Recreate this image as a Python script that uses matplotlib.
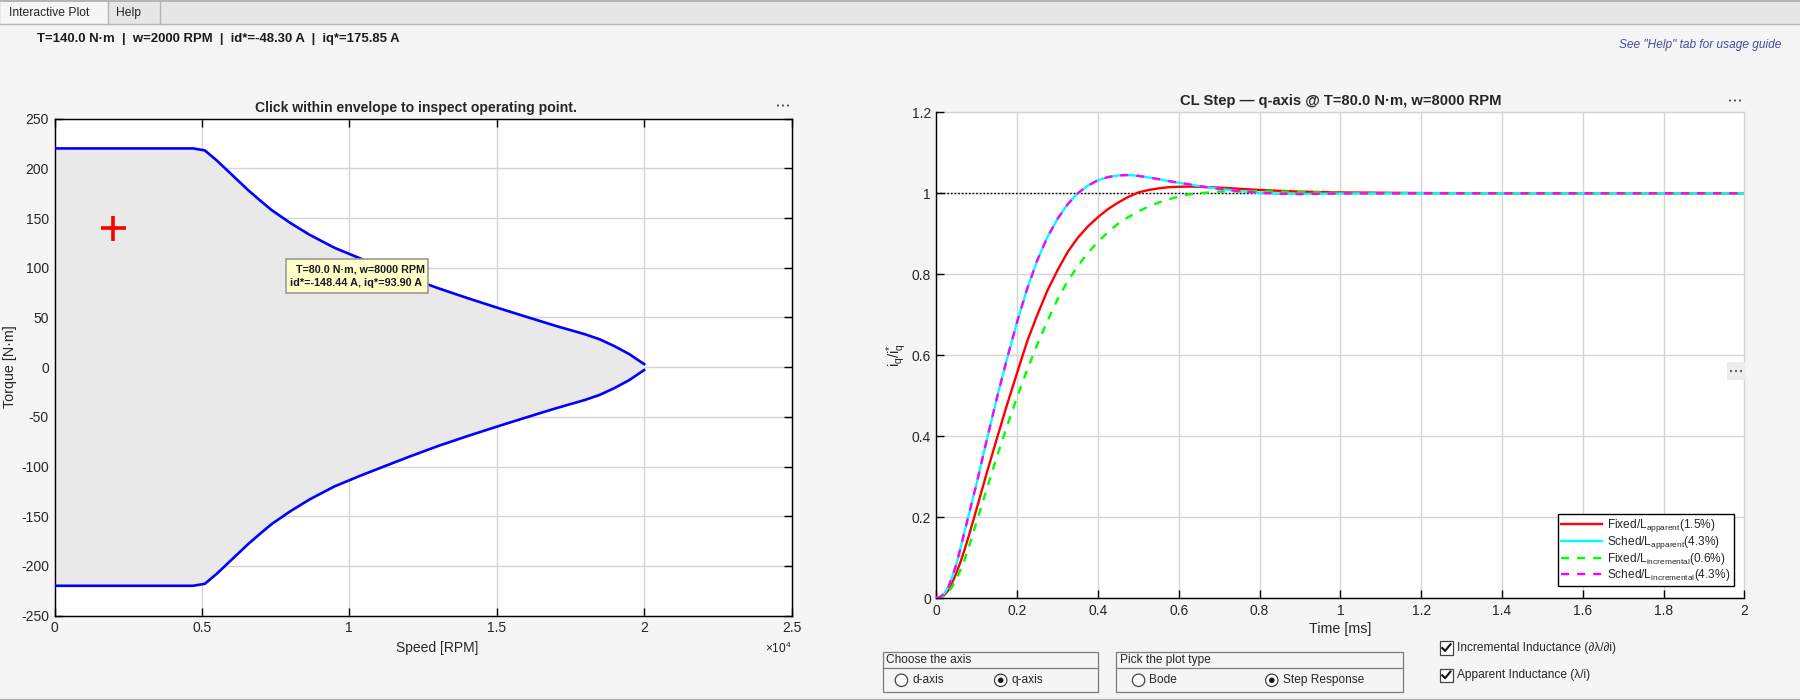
import matplotlib
matplotlib.use("Agg")
import matplotlib.pyplot as plt
from matplotlib.patches import Rectangle, Circle

plt.rcParams['font.family'] = ['Liberation Sans', 'DejaVu Sans']
plt.rcParams['mathtext.fontset'] = 'custom'
plt.rcParams['mathtext.rm'] = 'Liberation Sans'
plt.rcParams['mathtext.it'] = 'Liberation Sans:italic'
plt.rcParams['mathtext.bf'] = 'Liberation Sans:bold'
plt.rcParams['axes.unicode_minus'] = False

# ---------- data ----------
speed_rpm = [0, 4700, 5100, 5500, 6000, 6570, 7000, 7363, 8000, 8660, 9500, 10356, 11000,
             12000, 13000, 14000, 15100, 16070, 17000, 18000, 18490, 19000, 19500, 20000]
torque_upper = [220, 220, 218, 208, 194, 178, 167, 158, 145, 133, 120, 109.5, 102,
                90.5, 79.5, 69.5, 59, 50, 41.5, 33, 28, 21, 13, 3]
torque_lower = [-220, -220, -218, -208, -194, -178, -167, -158, -145, -133, -120, -109.5, -102,
                -90.5, -79.5, -69.5, -59, -50, -41.5, -33, -28, -21, -13, -3]
op_speed = [2000]
op_torque = [140]

time_ms = [0, .01, .02, .03, .04, .05, .06, .07, .08, .09, .1, .125, .15, .175, .2, .225, .25, .275,
           .3, .325, .35, .375, .4, .425, .45, .475, .5, .525, .55, .575, .6, .625, .65, .675, .7,
           .75, .8, .85, .9, 1.0, 1.2, 1.4, 1.6, 1.8, 2.0]
fixed_apparent = [0, .002, .008, .02, .04, .063, .09, .12, .153, .187, .222, .31, .395, .478, .557, .635, .70, .76,
                  .81, .855, .89, .918, .941, .961, .977, .991, 1.002, 1.008, 1.012, 1.015, 1.016, 1.0165, 1.016, 1.015, 1.014,
                  1.011, 1.008, 1.006, 1.004, 1.002, 1.0005, 1.0, 1.0, 1.0, 1.0]
sched_apparent = [0, .003, .012, .028, .055, .085, .125, .165, .205, .245, .285, .392, .495, .592, .683, .765, .835, .892,
                  .937, .973, 1.0, 1.019, 1.032, 1.04, 1.044, 1.045, 1.043, 1.039, 1.035, 1.03, 1.026, 1.022, 1.018, 1.014, 1.011,
                  1.005, 1.001, .999, .998, .9995, 1.0, 1.0, 1.0, 1.0, 1.0]
fixed_incremental = [0, .001, .006, .015, .03, .048, .07, .096, .125, .157, .19, .27, .35, .425, .497, .565, .627, .685,
                     .738, .783, .82, .853, .88, .904, .925, .941, .955, .967, .977, .985, .992, .997, 1.0, 1.002, 1.004,
                     1.005, 1.005, 1.004, 1.003, 1.001, 1.0, 1.0, 1.0, 1.0, 1.0]
sched_incremental = list(sched_apparent)
reference = [1, 1]
reference_t = [0, 2]

speed_ticks = [0, 5000, 10000, 15000, 20000, 25000]
speed_ticklabels = ['0', '0.5', '1', '1.5', '2', '2.5']
torque_ticks = [-250, -200, -150, -100, -50, 0, 50, 100, 150, 200, 250]
time_ticks = [0, .2, .4, .6, .8, 1, 1.2, 1.4, 1.6, 1.8, 2]
time_ticklabels = ['0', '0.2', '0.4', '0.6', '0.8', '1', '1.2', '1.4', '1.6', '1.8', '2']
resp_ticks = [0, .2, .4, .6, .8, 1, 1.2]
resp_ticklabels = ['0', '0.2', '0.4', '0.6', '0.8', '1', '1.2']

W, H = 1800, 700
BG = '#f5f5f5'
GRID = '#d4d4d4'
TXT = '#262626'
fig = plt.figure(figsize=(18, 7), dpi=100, facecolor=BG)


def px_axes(l, t, r, b):
    return fig.add_axes([l / W, 1 - b / H, (r - l) / W, (b - t) / H])


def style(ax):
    ax.set_facecolor('white')
    ax.grid(True, color=GRID, lw=1.0)
    ax.set_axisbelow(True)
    for s in ax.spines.values():
        s.set_linewidth(1.0)
        s.set_color('black')
    ax.tick_params(direction='in', length=5.5, width=1.0, labelsize=10, colors=TXT,
                   color='black', pad=4)


# ---------- left axes ----------
axL = px_axes(54.5, 118.6, 791.5, 615.6)
style(axL)
axL.tick_params(top=True, right=True)
axL.fill_between(speed_rpm, torque_lower, torque_upper, color='#e9e9e9', lw=0, zorder=1.5)
axL.plot(speed_rpm, torque_upper, color='#0000ff', lw=1.9, zorder=3)
axL.plot(speed_rpm, torque_lower, color='#0000ff', lw=1.9, zorder=3)
axL.plot(op_speed, op_torque, '+', color='#ff0000', ms=18, mew=2.6, zorder=4)
axL.set_xlim(0, 25000)
axL.set_ylim(-250, 250)
axL.set_xticks(speed_ticks, speed_ticklabels)
axL.set_yticks(torque_ticks)
axL.set_xlabel('Speed [RPM]', fontsize=10, color=TXT)
axL.xaxis.set_label_coords((437 - 54.5) / 737, -(648 - 615.6) / 497)
axL.xaxis.label.set_verticalalignment('center')
axL.set_ylabel('Torque [N·m]', fontsize=10.3, color=TXT)
axL.yaxis.set_label_coords((10.5 - 54.5) / 737, 0.5)
axL.yaxis.label.set_verticalalignment('center')
axL.set_title('Click within envelope to inspect operating point.', fontsize=10.1,
              fontweight='bold', color=TXT, pad=5, x=(416 - 54.5) / 737)

# ---------- right axes ----------
axR = px_axes(936.4, 112.3, 1744.3, 598)
style(axR)
axR.spines['top'].set_visible(False)
axR.spines['right'].set_visible(False)
axR.plot(reference_t, reference, color='black', lw=1.0, ls=(0, (1.2, 1.4)), zorder=2.5)
axR.plot(time_ms, fixed_apparent, color='#ff0000', lw=1.7, label=r'Fixed/L$_{\mathrm{apparent}}$(1.5%)', zorder=3)
axR.plot(time_ms, sched_apparent, color='#00ffff', lw=1.7, label=r'Sched/L$_{\mathrm{apparent}}$(4.3%)', zorder=3)
axR.plot(time_ms, fixed_incremental, color='#00ff00', lw=1.7, ls=(0, (3.4, 3.4)),
         label=r'Fixed/L$_{\mathrm{incremental}}$(0.6%)', zorder=3)
axR.plot(time_ms, sched_incremental, color='#ff00ff', lw=1.7, ls=(0, (3.4, 3.4)),
         label=r'Sched/L$_{\mathrm{incremental}}$(4.3%)', zorder=3)
axR.set_xlim(0, 2)
axR.set_ylim(0, 1.2)
axR.set_xticks(time_ticks, time_ticklabels)
axR.set_yticks(resp_ticks, resp_ticklabels)
axR.set_xlabel('Time [ms]', fontsize=10.3, color=TXT, labelpad=3)
axR.set_ylabel(r'i$_{\mathrm{q}}$/i$_{\mathrm{q}}^{*}$', fontsize=10.5, color=TXT)
axR.yaxis.set_label_coords((896.7 - 936.4) / 807.9, 0.5)
axR.yaxis.label.set_verticalalignment('center')
axR.set_title('CL Step — q-axis @ T=80.0 N·m, w=8000 RPM', fontsize=10.6,
              fontweight='bold', color=TXT, pad=5)
leg = axR.legend(loc='lower right', bbox_to_anchor=(1733.7 / W, 1 - 586.3 / H), bbox_transform=fig.transFigure,
                 fontsize=8.6, frameon=True, fancybox=False, framealpha=1, edgecolor='black',
                 borderpad=0.25, labelspacing=0.0, handlelength=3.4, handletextpad=0.45,
                 borderaxespad=0)
leg.get_frame().set_linewidth(1.0)
for t in leg.get_texts():
    t.set_color(TXT)
for ax in (axL, axR):
    for g in ax.get_xgridlines() + ax.get_ygridlines():
        g.set_clip_on(False)

# ---------- chrome overlay ----------
ov = fig.add_axes([0, 0, 1, 1], zorder=10)
ov.set_xlim(0, W)
ov.set_ylim(H, 0)
ov.axis('off')
ov.patch.set_alpha(0)

EDGE = '#b4b4b4'
ov.add_patch(Rectangle((0, 0), W, 23.5, fc='#e6e6e6', ec='none'))
ov.plot([0, W], [0.7, 0.7], color=EDGE, lw=1.4)
ov.plot([0, W], [23.5, 23.5], color=EDGE, lw=1.0)
ov.add_patch(Rectangle((0.5, 1), 107, 23.5, fc=BG, ec='none'))
ov.plot([107.5, 107.5], [1, 23.5], color=EDGE, lw=1.0)
ov.plot([160, 160], [1, 23.5], color=EDGE, lw=1.0)
ov.plot([0, W], [699, 699], color=EDGE, lw=1.0)
ov.text(9, 13, 'Interactive Plot', fontsize=8.7, va='center', color=TXT)
ov.text(116, 13, 'Help', fontsize=8.7, va='center', color=TXT)
ov.text(37, 39, 'T=140.0 N·m  |  w=2000 RPM  |  id*=-48.30 A  |  iq*=175.85 A', fontsize=9.45,
        fontweight='bold', va='center', color='#1a1a1a')
ov.text(1781, 45, 'See "Help" tab for usage guide', fontsize=8.6, style='italic', ha='right',
        va='center', color='#4a4a9c')

# axes toolbar dots
ov.add_patch(Rectangle((1727, 362), 18, 18, fc='#ececec', ec='none'))
for cx, cy in [(783, 105.5), (1735, 100.5), (1736, 371)]:
    for dx in (-5, 0, 5):
        ov.add_patch(Circle((cx + dx, cy), 1.1, fc='#555555', ec='none'))

# data tip
ov.add_patch(Rectangle((285.5, 259), 142, 34, fc='#ffffcc', ec='#9a9a9a', lw=1.2))
ov.text(360.5, 269, 'T=80.0 N·m, w=8000 RPM', fontsize=7.65, fontweight='bold', ha='center',
        va='center', color='#1a1a1a')
ov.text(356.5, 282.5, 'id*=-148.44 A, iq*=93.90 A', fontsize=7.8, fontweight='bold', ha='center',
        va='center', color='#1a1a1a')

# x 10^4
ov.text(792, 648, r'×10$^{4}$', fontsize=8.6, ha='right', va='center', color=TXT)

# control panels
PAN = '#7d7d7d'
for (l, r, title) in [(882.5, 1097.5, 'Choose the axis'), (1116.4, 1402.5, 'Pick the plot type')]:
    ov.add_patch(Rectangle((l, 652), r - l, 39.7, fc='none', ec=PAN, lw=0.9))
    ov.plot([l, r], [668.3, 668.3], color=PAN, lw=0.9)
    ov.text(l + 4, 660.3, title, fontsize=8.6, va='center', color=TXT)

radios = [(901.4, 'd-axis', False), (1000.7, 'q-axis', True), (1138.6, 'Bode', False),
          (1271.8, 'Step Response', True)]
for x, label, on in radios:
    ov.add_patch(Circle((x, 680.3), 6.2, fc='white', ec='#444444', lw=0.9))
    if on:
        ov.add_patch(Circle((x, 680.3), 2.8, fc='#1a1a1a', ec='none'))
    ov.text(x + 10.8, 680.3, label, fontsize=8.6, va='center', color=TXT)

for y, label in [(647.7, 'Incremental Inductance (∂λ/∂i)'), (675, 'Apparent Inductance (λ/i)')]:
    ov.add_patch(Rectangle((1439.5, y - 6.5), 13.5, 13.5, fc='white', ec='#444444', lw=0.9))
    ov.plot([1442.3, 1445, 1450.5], [y + 0.3, y + 3.2, y - 3.4], color='#111111', lw=1.5)
    ov.text(1456.7, y + 0.3, label, fontsize=8.6, va='center', color=TXT)

fig.savefig('out.png', dpi=100, facecolor=BG)
